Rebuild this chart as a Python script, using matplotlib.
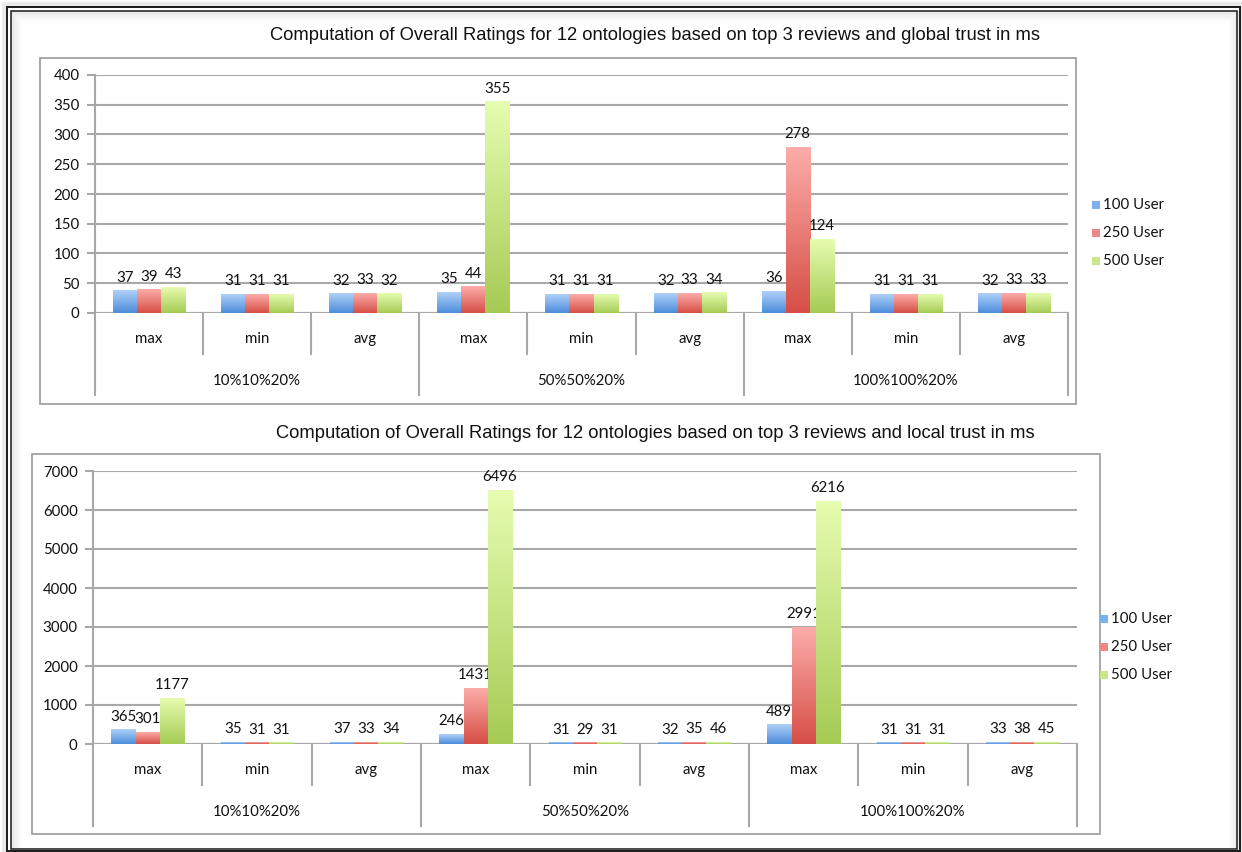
import numpy as np
import matplotlib
matplotlib.use("Agg")
import matplotlib.pyplot as plt
from matplotlib.colors import LinearSegmentedColormap
from matplotlib.patches import Rectangle

W, H = 1242, 852

# data
groups = ["10%10%20%", "50%50%20%", "100%100%20%"]
stats = ["max", "min", "avg"]
series = ["100 User", "250 User", "500 User"]

global_100 = [37, 31, 32, 35, 31, 32, 36, 31, 32]
global_250 = [39, 31, 33, 44, 31, 33, 278, 31, 33]
global_500 = [43, 31, 32, 355, 31, 34, 124, 31, 33]

local_100 = [365, 35, 37, 246, 31, 32, 489, 31, 33]
local_250 = [301, 31, 33, 1431, 29, 35, 2991, 31, 38]
local_500 = [1177, 31, 34, 6496, 31, 46, 6216, 31, 45]

# (top colour, bottom colour) for each series
grads = [("#aed0f8", "#4d8ddb"), ("#fcaca9", "#d64f47"), ("#e6fcb0", "#a6cb55")]
legend_cols = ["#7fb0ec", "#ec8a86", "#c8e68a"]

GRID = "#a8a8a8"
tick_font = dict(family=["Lato", "DejaVu Sans"], size=10.8, color="#111111")
title_font = dict(family=["Liberation Sans", "DejaVu Sans"], size=13.2, color="#111111")

fig = plt.figure(figsize=(W / 100, H / 100), dpi=100)
fig.patch.set_facecolor("white")


def fx(px):
    return px / W


def fy(py):
    return 1 - py / H


# picture frame with a soft inner shadow
bg = fig.add_axes([0, 0, 1, 1], zorder=-10)
bg.set_xlim(0, W)
bg.set_ylim(H, 0)
bg.axis("off")
for i in range(10):
    a = 0.10 * (1 - i / 10)
    bg.add_patch(Rectangle((11 + i, 11 + i), 1227 - 2 * i, 840 - i, fill=False,
                           ec=(0.35, 0.35, 0.35, a), lw=1))
for i in range(5):
    bg.add_patch(Rectangle((6 - i, 6 - i), 1235 + 2 * i, 850, fill=False,
                           ec=(0.5, 0.5, 0.5, 0.12), lw=1))
bg.add_patch(Rectangle((7, 7), 1233, 844, fill=False, ec="#1a1a1a", lw=1.4))
bg.add_patch(Rectangle((11, 11), 1226, 838, fill=False, ec="#1a1a1a", lw=1.1))


def draw_chart(box, plot, ymax, ystep, vals, title, title_xy, legend_xy):
    bx0, by0, bx1, by1 = box
    bg.add_patch(Rectangle((bx0, by0), bx1 - bx0, by1 - by0, fill=False,
                           ec="#9a9a9a", lw=1.2, zorder=2))
    fig.text(fx(title_xy[0]), fy(title_xy[1]), title, ha="center", va="center",
             **title_font)

    px0, py0, px1, py1 = plot
    ax = fig.add_axes([fx(px0), fy(py1), fx(px1) - fx(px0), fy(py0) - fy(py1)])
    n = len(vals[0])
    for s in ["top", "right", "bottom"]:
        ax.spines[s].set_visible(False)
    ax.spines["left"].set_color(GRID)
    ax.spines["left"].set_linewidth(1.5)
    ax.set_yticks(np.arange(0, ymax + 1, ystep))
    ax.set_yticklabels([str(v) for v in range(0, ymax + 1, ystep)], fontdict=tick_font)
    ax.tick_params(axis="y", length=6, width=1.5, color=GRID, pad=5)
    ax.set_xticks([])
    ax.grid(axis="y", color=GRID, lw=1.5, zorder=0)
    ax.axhline(0, color=GRID, lw=1.5, zorder=1)
    ax.set_axisbelow(True)

    bw = 2 / 9
    x = np.arange(n) + 0.5
    for k, v in enumerate(vals):
        top, bot = grads[k]
        cmap = LinearSegmentedColormap.from_list("g%d" % k, [bot, top])
        grad = np.linspace(1, 0, 64).reshape(-1, 1)
        bars = ax.bar(x + (k - 1) * bw, v, bw, color="none", zorder=2)
        for b, val in zip(bars, v):
            x0, w, h = b.get_x(), b.get_width(), b.get_height()
            ax.imshow(grad, cmap=cmap, extent=[x0, x0 + w, 0, h], aspect="auto",
                      interpolation="bilinear", zorder=3, origin="upper")
            ax.annotate(str(val), (x0 + w / 2, h), xytext=(0, 4.5),
                        textcoords="offset points", ha="center", va="bottom",
                        **tick_font)
    ax.set_xlim(0, n)
    ax.set_ylim(0, ymax)

    # two-level category axis below the plot
    tr = ax.get_xaxis_transform()
    ph = py1 - py0
    for i in range(n + 1):
        depth = 82 if i % 3 == 0 else 41
        ax.plot([i, i], [0, -depth / ph], transform=tr, color=GRID, lw=1.5,
                clip_on=False)
    for i in range(n):
        ax.text(i + 0.5, -26 / ph, stats[i % 3], transform=tr, ha="center",
                va="center", **tick_font)
    for g, name in enumerate(groups):
        ax.text(3 * g + 1.5, -68 / ph, name, transform=tr, ha="center",
                va="center", **tick_font)

    # legend
    lx, ly = legend_xy
    for k, name in enumerate(series):
        yy = ly + k * 28
        bg.add_patch(Rectangle((lx, yy - 4.5), 8, 8, fc=legend_cols[k], ec="none", zorder=3))
        fig.text(fx(lx + 11), fy(yy), name, ha="left", va="center", **tick_font)
    return ax


draw_chart((40, 58, 1076, 404), (95, 75, 1068, 313), 400, 50,
           [global_100, global_250, global_500],
           "Computation of Overall Ratings for 12 ontologies based on top 3 reviews and global trust in ms",
           (655, 35), (1092, 205))

draw_chart((32, 454, 1100, 834), (93, 471, 1077, 744), 7000, 1000,
           [local_100, local_250, local_500],
           "Computation of Overall Ratings for 12 ontologies based on top 3 reviews and local trust in ms",
           (655, 434), (1100, 619))

fig.savefig("out.png", dpi=100)
